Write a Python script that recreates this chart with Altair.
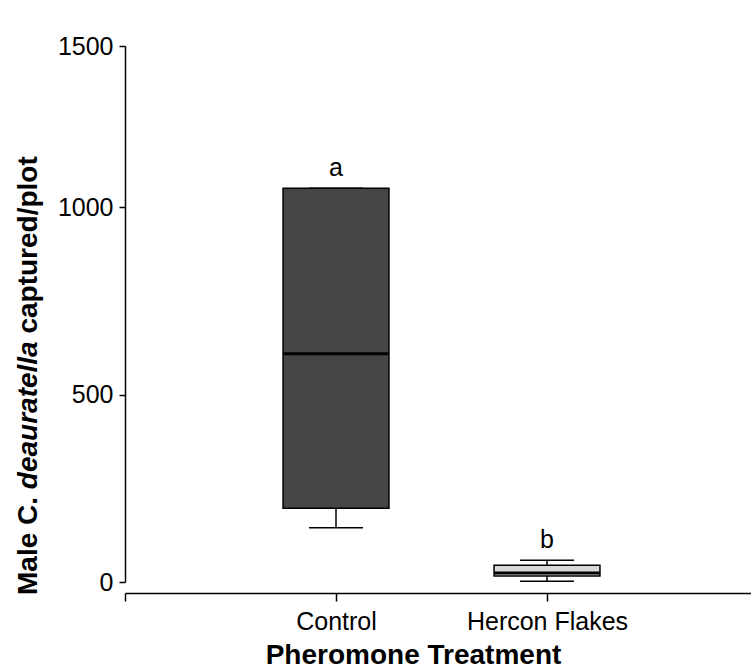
import altair as alt
import pandas as pd

# ---- data ----
categories = ["Control", "Hercon Flakes"]
positions = [1, 2]
lower_whisker = [145, 2]
q1 = [197, 16]
median = [609, 24]
q3 = [1058, 45]
upper_whisker = [1058, 58]
letters = ["a", "b"]

y_ticks = [0, 500, 1000, 1500]
x_ticks = [0, 1, 2]

df = pd.DataFrame({
    "cat": categories, "pos": positions, "lo": lower_whisker, "q1": q1,
    "med": median, "q3": q3, "hi": upper_whisker, "letter": letters,
})

FONT = "Liberation Sans"
FS = 25
TFS = 28
TOP = 46
W, H = 626, 536
XMAX = W / 211.0
BOX_HALF = 0.251
CAP_HALF = 0.128

xs = alt.Scale(domain=[0, XMAX], nice=False, zero=False)
ys = alt.Scale(domain=[0, 1000, 1500], range=[H, 161, 0], nice=False)

base = alt.Chart(df).transform_calculate(
    bx1=f"datum.pos - {BOX_HALF}", bx2=f"datum.pos + {BOX_HALF}",
    cx1=f"datum.pos - {CAP_HALF}", cx2=f"datum.pos + {CAP_HALF}",
)

x_axis = alt.Axis(
    values=x_ticks, labelExpr="datum.value == 1 ? 'Control' : datum.value == 2 ? 'Hercon Flakes' : ''",
    title="Pheromone Treatment", offset=11, tickSize=8, labelPadding=8,
    titlePadding=7, titleX=288, titleAlign="center", grid=False,
    domainColor="black", tickColor="black",
    domainWidth=1.5, tickWidth=1.5, labelFontSize=FS, titleFontSize=TFS,
    titleFontWeight="bold", labelColor="black", titleColor="black",
    labelFont=FONT, titleFont=FONT,
)
y_axis = alt.Axis(
    values=y_ticks, format="d", title=None, tickSize=6, labelPadding=6, grid=False,
    domainColor="black", tickColor="black", domainWidth=1.5, tickWidth=1.5,
    labelFontSize=FS, labelColor="black", labelFont=FONT,
)

whisk_lo = base.mark_rule(color="black", strokeWidth=1.5).encode(
    x=alt.X("pos:Q", scale=xs, axis=x_axis),
    y=alt.Y("lo:Q", scale=ys, axis=y_axis),
    y2="q1:Q",
)
whisk_hi = base.mark_rule(color="black", strokeWidth=1.5).encode(
    x="pos:Q", y="q3:Q", y2="hi:Q",
)
cap_lo = base.mark_rule(color="black", strokeWidth=1.5).encode(
    x="cx1:Q", x2="cx2:Q", y="lo:Q",
)
cap_hi = base.mark_rule(color="black", strokeWidth=1.5).encode(
    x="cx1:Q", x2="cx2:Q", y="hi:Q",
)
box = base.mark_bar(stroke="black", strokeWidth=1.5).encode(
    x="bx1:Q", x2="bx2:Q", y="q1:Q", y2="q3:Q",
    color=alt.Color("cat:N", scale=alt.Scale(domain=categories, range=["#464646", "#d8d8d8"]), legend=None),
)
med = base.mark_rule(color="black", strokeWidth=3).encode(
    x="bx1:Q", x2="bx2:Q", y="med:Q",
)
lett = base.mark_text(fontSize=FS, font=FONT, color="black", dy=-12, baseline="alphabetic").encode(
    x="pos:Q", y="hi:Q", text="letter:N",
)

# y-axis title with italic species name, built from pieces
title_parts = ["Male C.", "deauratella", "captured/plot"]
em = [3.779, 5.280, 7.012]   # advance widths incl. following/leading space
lead = [0.0, 0.0, 0.278]
total = sum(em) * TFS
center_y = 370 - TOP
start = center_y + total / 2
layers_title = []
off = 0.0
for part, w, ld, sty in zip(title_parts, em, lead, ["normal", "italic", "normal"]):
    t = alt.Chart(pd.DataFrame({"t": [part]})).mark_text(
        font=FONT, fontSize=TFS, fontWeight="bold", fontStyle=sty, angle=270,
        align="left", baseline="middle", color="black",
    ).encode(x=alt.value(-96), y=alt.value(start - off - ld * TFS), text="t:N")
    layers_title.append(t)
    off += w * TFS

chart = alt.layer(whisk_lo, whisk_hi, cap_lo, cap_hi, box, med, lett, *layers_title).properties(
    width=W, height=H,
    padding={"left": 125, "top": TOP, "right": 0, "bottom": 670 - TOP - H},
    autosize=alt.AutoSizeParams(type="none"),
    background="white",
).configure_view(strokeWidth=0, stroke="transparent")

chart.save("out.html", embed_options={"renderer": "svg", "actions": False})
